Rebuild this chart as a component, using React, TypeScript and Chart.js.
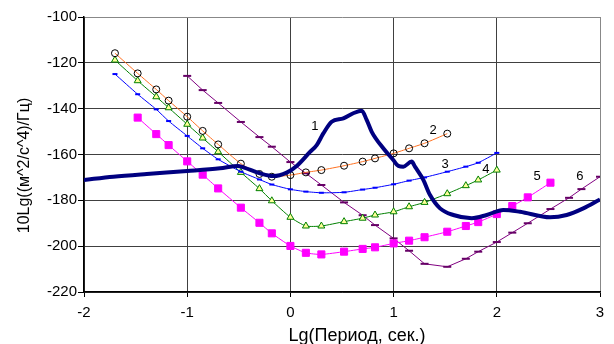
import React, { useEffect, useRef } from "react";
import { Chart, registerables } from "chart.js";

Chart.register(...registerables);

// Curve 1 (own abscissas)
const curve1X = [-2.0, -1.716, -1.392, -1.0, -0.682, -0.508, -0.456, -0.295, -0.166, -0.036, 0.061, 0.19, 0.255, 0.319, 0.4, 0.513, 0.609, 0.691, 0.739, 0.788, 0.9, 0.997, 1.046, 1.094, 1.175, 1.207, 1.288, 1.353, 1.45, 1.579, 1.757, 1.902, 2.063, 2.225, 2.516, 2.677, 2.838, 3.0];
const curve1Y = [-171.1, -169.7, -168.5, -167.2, -166.0, -165.0, -165.6, -168.2, -169.4, -167.9, -165.0, -158.9, -155.9, -150.8, -145.7, -144.2, -142.0, -140.9, -144.9, -150.1, -157.3, -162.4, -165.0, -165.3, -163.1, -165.3, -171.1, -177.7, -183.5, -186.4, -187.8, -186.4, -184.2, -185.0, -187.4, -186.4, -183.5, -179.6];

// Shared abscissas for curves 2..6: Lg(period)
const lgPeriod = [-1.7, -1.48, -1.3, -1.18, -1, -0.85, -0.7, -0.48, -0.3, -0.18, 0, 0.15, 0.3, 0.52, 0.7, 0.82, 1, 1.15, 1.3, 1.52, 1.7, 1.82, 2, 2.15, 2.3, 2.52, 2.7, 2.82, 3];

const curve2 = [-115.8, -124.6, -131.6, -136.5, -143.5, -149.7, -155.6, -164.0, -168.5, -169.7, -169.0, -167.8, -166.8, -164.9, -163.1, -161.7, -159.5, -157.3, -155.1, -150.9, null, null, null, null, null, null, null, null, null];
const curve3 = [-124.9, -133.7, -140.3, -145.4, -151.9, -157.3, -162.1, -167.5, -170.9, -173.1, -175.2, -176.2, -176.7, -176.5, -175.3, -174.5, -173.0, -171.4, -170.0, -167.5, -165.3, -163.6, -159.3, null, null, null, null, null, null];
const curve4 = [-118.8, -127.8, -134.8, -139.6, -146.8, -152.8, -158.8, -167.8, -174.9, -180.2, -187.4, -191.2, -191.2, -189.3, -187.8, -186.4, -185.0, -182.8, -180.9, -177.1, -173.6, -171.1, -166.8, null, null, null, null, null, null];
const curve5 = [null, -143.9, -151.1, -155.9, -163.0, -168.8, -174.8, -183.2, -189.8, -194.4, -199.9, -202.9, -203.6, -202.4, -201.2, -200.5, -198.8, -197.6, -196.1, -193.7, -191.2, -189.5, -186.0, -182.5, -178.7, -172.3, null, null, null];
const curve6 = [null, null, null, null, -125.7, -131.9, -137.5, -145.8, -152.4, -156.6, -163.3, -168.2, -173.3, -180.9, -186.5, -190.8, -196.6, -202.0, -207.7, -209.0, -205.5, -202.4, -198.2, -194.1, -190.0, -183.8, -178.9, -175.1, -169.7];

const xTicks = [-2, -1, 0, 1, 2, 3];
const yTicks = [-220, -200, -180, -160, -140, -120, -100];

const curveLabels = ["1", "2", "3", "4", "5", "6"];
const labelX = [0.238, 1.382, 1.498, 1.895, 2.39, 2.806];
const labelY = [-147.6, -149.7, -164.2, -166.3, -169.4, -169.4];

const xTitle = "Lg(Период, сек.)";
const yTitle = "10Lg((м^2/с^4)/Гц)";

const FONT = "'Liberation Sans', Arial, sans-serif";

function pts(xs: number[], ys: (number | null)[]) {
  return xs
    .map((x, i) => ({ x, y: ys[i] }))
    .filter((p) => p.y !== null && p.y !== undefined) as { x: number; y: number }[];
}

const overlayPlugin = {
  id: "overlay",
  afterDraw(chart: any) {
    const ctx = chart.ctx as CanvasRenderingContext2D;
    const xs = chart.scales.x;
    const ys = chart.scales.y;
    const area = chart.chartArea;
    ctx.save();
    // curve number labels
    ctx.fillStyle = "#000";
    ctx.font = `13px ${FONT}`;
    ctx.textAlign = "center";
    ctx.textBaseline = "middle";
    curveLabels.forEach((t, i) => {
      ctx.fillText(t, xs.getPixelForValue(labelX[i]), ys.getPixelForValue(labelY[i]));
    });
    // x title
    ctx.font = `18px ${FONT}`;
    ctx.textAlign = "center";
    ctx.textBaseline = "alphabetic";
    ctx.fillText(xTitle, (area.left + area.right) / 2 + 15, chart.height - 3);
    // y title
    ctx.font = `16px ${FONT}`;
    ctx.translate(25, (area.top + area.bottom) / 2 + 11);
    ctx.rotate(-Math.PI / 2);
    ctx.textAlign = "center";
    ctx.textBaseline = "middle";
    ctx.fillText(yTitle, 0, 0);
    ctx.restore();
  },
};

export default function App() {
  const ref = useRef<HTMLCanvasElement | null>(null);

  useEffect(() => {
    document.body.style.margin = "0";
    const canvas = ref.current;
    if (!canvas) return;
    const chart = new Chart(canvas, {
      type: "line",
      data: {
        datasets: [
          {
            label: "1",
            data: pts(curve1X, curve1Y),
            borderColor: "#000080",
            borderWidth: 4,
            pointRadius: 0,
            tension: 0.3,
            cubicInterpolationMode: "monotone",
          },
          {
            label: "2",
            data: pts(lgPeriod, curve2),
            borderColor: "#FF7020",
            borderWidth: 1,
            pointStyle: "circle",
            pointRadius: 3.5,
            pointBackgroundColor: "rgba(0,0,0,0)",
            pointBorderColor: "#000",
            pointBorderWidth: 1,
            tension: 0.2,
          },
          {
            label: "3",
            data: pts(lgPeriod, curve3),
            borderColor: "#0000FF",
            borderWidth: 1,
            pointStyle: "line",
            pointRadius: 2.5,
            pointBorderColor: "#0000FF",
            pointBorderWidth: 2,
            tension: 0.2,
          },
          {
            label: "4",
            data: pts(lgPeriod, curve4),
            borderColor: "#008000",
            borderWidth: 1,
            pointStyle: "triangle",
            pointRadius: 4,
            pointBackgroundColor: "#FFFF99",
            pointBorderColor: "#008000",
            pointBorderWidth: 1,
            tension: 0.2,
          },
          {
            label: "5",
            data: pts(lgPeriod, curve5),
            borderColor: "#FF00FF",
            borderWidth: 1,
            pointStyle: "rect",
            pointRadius: 5,
            pointBackgroundColor: "#FF00FF",
            pointBorderColor: "#FF00FF",
            pointBorderWidth: 1,
            tension: 0.2,
          },
          {
            label: "6",
            data: pts(lgPeriod, curve6),
            borderColor: "#800080",
            borderWidth: 1,
            pointStyle: "line",
            pointRadius: 4,
            pointBorderColor: "#660066",
            pointBorderWidth: 2,
            tension: 0,
          },
        ],
      },
      options: {
        animation: false,
        responsive: false,
        maintainAspectRatio: false,
        layout: { padding: { top: 17, right: 14, left: 0, bottom: 0 } },
        plugins: {
          legend: { display: false },
          tooltip: { enabled: false },
          title: { display: false },
        },
        scales: {
          x: {
            type: "linear",
            min: -2,
            max: 3,
            afterBuildTicks: (s: any) => {
              s.ticks = xTicks.map((v) => ({ value: v }));
            },
            ticks: {
              color: "#000",
              font: { family: FONT, size: 15 },
              padding: 7,
              maxRotation: 0,
              autoSkip: false,
            },
            grid: {
              color: (c: any) => (c.tick && c.tick.value === 3 ? "#888" : "#404040"),
              lineWidth: 1,
              tickLength: 5,
              tickColor: "#000",
            },
            border: { color: "#000", width: 1.5 },
            afterFit: (s: any) => {
              s.height = 52;
            },
          },
          y: {
            type: "linear",
            min: -220,
            max: -100,
            afterBuildTicks: (s: any) => {
              s.ticks = yTicks.map((v) => ({ value: v }));
            },
            ticks: {
              color: "#000",
              font: { family: FONT, size: 15 },
              padding: 1,
              autoSkip: false,
            },
            grid: {
              color: (c: any) => (c.tick && c.tick.value === -100 ? "#888" : "#404040"),
              lineWidth: 1,
              tickLength: 6,
              tickColor: "#000",
            },
            border: { color: "#000", width: 1.5 },
            afterFit: (s: any) => {
              s.width = 84;
            },
          },
        },
      },
      plugins: [overlayPlugin],
    } as any);
    return () => chart.destroy();
  }, []);

  return (
    <div style={{ width: 614, height: 344 }}>
      <canvas ref={ref} width={614} height={344} style={{ display: "block", width: 614, height: 344 }} />
    </div>
  );
}
